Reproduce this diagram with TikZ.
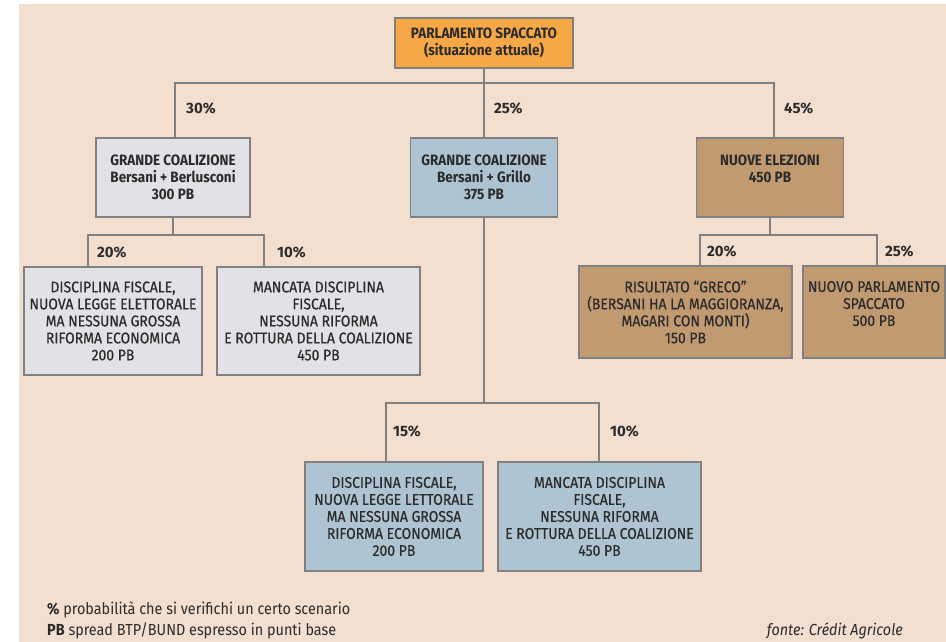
\documentclass[tikz,border=0pt]{standalone}
\usepackage{fontspec}
\setmainfont{Fira Sans}[FakeStretch=0.9]
\newfontfamily\medfont{Fira Sans}[FakeStretch=0.9, FakeBold=0.4]
\newfontfamily\plainfont{Fira Sans}
\definecolor{bg}{HTML}{F2DFD0}
\definecolor{rootc}{HTML}{F6A847}
\definecolor{greyc}{HTML}{E2E2E6}
\definecolor{bluec}{HTML}{AFC4D3}
\definecolor{brownc}{HTML}{C29A72}
\definecolor{linec}{HTML}{808080}
\definecolor{txt}{HTML}{2B2B2B}
\begin{document}
\begin{tikzpicture}[x=1pt,y=-1pt,
  box/.style={draw=linec, line width=1.4pt, align=center, inner sep=0pt, text=txt,
    font=\medfont\fontsize{15.5}{17}\selectfont},
  hbox/.style={box, font=\fontsize{15}{17}\selectfont\bfseries},
  conn/.style={draw=linec, line width=1.6pt},
  pct/.style={anchor=west, text=txt, font=\plainfont\fontsize{15}{16}\selectfont\bfseries, inner sep=0pt},
  foot/.style={text=txt, inner sep=0pt, font=\fontsize{16}{17}\selectfont}]
\useasboundingbox (0,0) rectangle (946,642);
\fill[white] (0,0) rectangle (946,642);
\fill[bg] (19,4) rectangle (946,642);

% root
\node[hbox, fill=rootc, minimum width=178pt, minimum height=50pt] (root) at (484,43)
  {PARLAMENTO SPACCATO\\(situazione attuale)};

% level 1
\node[hbox, fill=greyc, minimum width=154pt, minimum height=79pt] (c1) at (173,177.5)
  {GRANDE COALIZIONE\\Bersani + Berlusconi\\300 PB};
\node[hbox, fill=bluec, minimum width=147pt, minimum height=79pt] (c2) at (484,177.5)
  {GRANDE COALIZIONE\\Bersani + Grillo\\375 PB};
\node[hbox, fill=brownc, minimum width=147pt, minimum height=79pt] (c3) at (770,177.5)
  {NUOVE ELEZIONI\\450 PB\\\mbox{}};

% level 2 left
\node[box, fill=greyc, minimum width=178pt, minimum height=108pt] (d1) at (113,321)
  {DISCIPLINA FISCALE,\\NUOVA LEGGE ELETTORALE\\MA NESSUNA GROSSA\\RIFORMA ECONOMICA\\200 PB};
\node[box, fill=greyc, minimum width=203pt, minimum height=108pt] (d2) at (318.5,321)
  {MANCATA DISCIPLINA\\FISCALE,\\NESSUNA RIFORMA\\E ROTTURA DELLA COALIZIONE\\450 PB};

% level 2 right
\node[box, fill=brownc, minimum width=213pt, minimum height=92pt] (e1) at (685.5,312)
  {RISULTATO “GRECO”\\(BERSANI HA LA MAGGIORANZA,\\MAGARI CON MONTI)\\150 PB};
\node[box, fill=brownc, minimum width=142pt, minimum height=92pt] (e2) at (874,312)
  {NUOVO PARLAMENTO\\SPACCATO\\500 PB\\\mbox{}};

% level 2 middle
\node[box, fill=bluec, minimum width=178pt, minimum height=109pt] (f1) at (394,516.5)
  {DISCIPLINA FISCALE,\\NUOVA LEGGE LETTORALE\\MA NESSUNA GROSSA\\RIFORMA ECONOMICA\\200 PB};
\node[box, fill=bluec, minimum width=203pt, minimum height=109pt] (f2) at (599.5,516.5)
  {MANCATA DISCIPLINA\\FISCALE,\\NESSUNA RIFORMA\\E ROTTURA DELLA COALIZIONE\\450 PB};

% junctions
\coordinate (j0) at (484,83);
\coordinate (ja) at (173,235);
\coordinate (jb) at (770,235);
\coordinate (jc) at (484,403);

% connectors
\draw[conn] (root.south) -- (j0);
\draw[conn] ([xshift=2pt]c1.north) |- (j0) -| ([xshift=4pt]c3.north);
\draw[conn] (c2.north) -- (c2.north |- j0);

\draw[conn] (c1.south) -- (ja);
\draw[conn] ([xshift=-25pt]d1.north) |- (ja) -| ([xshift=-54.5pt]d2.north);

\draw[conn] (c3.south) -- (jb);
\draw[conn] ([xshift=14.5pt]e1.north) |- (jb) -| ([xshift=3pt]e2.north);

\draw[conn] (c2.south) -- (jc);
\draw[conn] ([xshift=-8pt]f1.north) |- (jc) -| ([xshift=-0.5pt]f2.north);

% percentages
\node[pct] (p1) at (186,108) {30\%};
\node[pct] (p2) at (494,108) {25\%};
\node[pct] (p3) at (784,108) {45\%};
\node[pct] (p4) at (97,252) {20\%};
\node[pct] (p5) at (277,252) {10\%};
\node[pct] (p6) at (707,251) {20\%};
\node[pct] (p7) at (885,251) {25\%};
\node[pct] (p8) at (393,431) {15\%};
\node[pct] (p9) at (610,431) {10\%};

% footer
\node[foot, anchor=west] (n1) at (47,610)
  {\textbf{\%} probabilità che si verifichi un certo scenario};
\node[foot, anchor=west] (n2) at (47,631)
  {\textbf{PB} spread BTP/BUND espresso in punti base};
\node[foot, anchor=east, font=\fontsize{16}{17}\selectfont\itshape] (n3) at (903,631)
  {fonte: Crédit Agricole};
\end{tikzpicture}
\end{document}
